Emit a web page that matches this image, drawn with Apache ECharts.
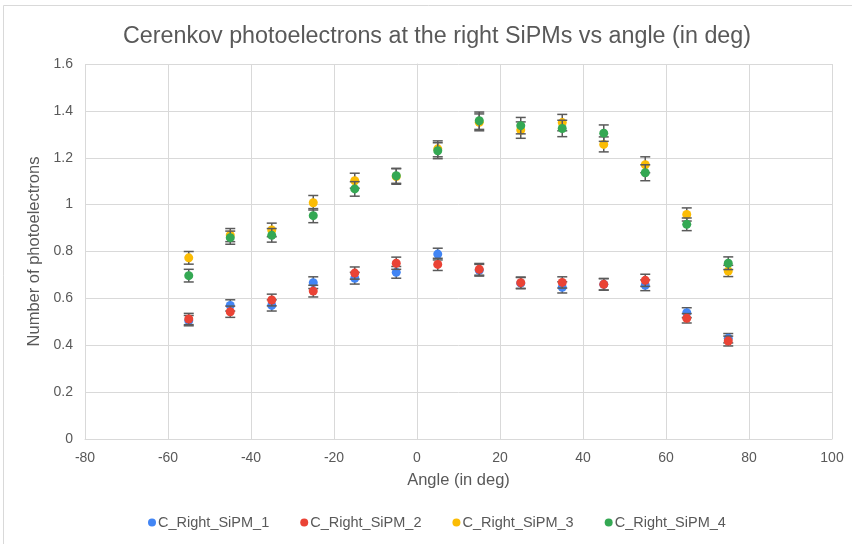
<!DOCTYPE html>
<html>
<head>
<meta charset="utf-8">
<script src="https://cdn.jsdelivr.net/npm/echarts@6/dist/echarts.min.js"></script>
<style>
html,body{margin:0;padding:0;background:#fff;}
#c{width:852px;height:544px;}
</style>
</head>
<body>
<div id="c"></div>
<script>
const angles = [-55,-45,-35,-25,-15,-5,5,15,25,35,45,55,65,75];
const sipm1 = [0.505,0.57,0.57,0.667,0.686,0.711,0.789,0.72,0.665,0.647,0.66,0.656,0.539,0.43];
const sipm2 = [0.512,0.543,0.593,0.631,0.708,0.75,0.745,0.724,0.667,0.668,0.66,0.677,0.515,0.418];
const sipm3 = [0.773,0.87,0.892,1.008,1.102,1.12,1.238,1.351,1.318,1.35,1.257,1.17,0.958,0.717];
const sipm4 = [0.697,0.859,0.869,0.953,1.067,1.123,1.23,1.358,1.337,1.325,1.305,1.136,0.916,0.75];
const err1 = [0.022,0.024,0.024,0.025,0.025,0.025,0.025,0.025,0.024,0.024,0.024,0.023,0.021,0.02];
const err2 = [0.024,0.024,0.025,0.025,0.026,0.026,0.026,0.025,0.024,0.024,0.025,0.026,0.02,0.021];
const err3 = [0.027,0.028,0.029,0.031,0.032,0.033,0.034,0.036,0.035,0.035,0.032,0.034,0.028,0.024];
const err4 = [0.027,0.028,0.029,0.03,0.031,0.032,0.034,0.037,0.035,0.035,0.035,0.034,0.027,0.027];
const names = ['C_Right_SiPM_1','C_Right_SiPM_2','C_Right_SiPM_3','C_Right_SiPM_4'];
const colors = ['#4285F4','#EA4335','#FBBC04','#34A853'];
const yTicks = [0,0.2,0.4,0.6,0.8,1,1.2,1.4,1.6];
const xTicks = [-80,-60,-40,-20,0,20,40,60,80,100];

const values = [sipm1,sipm2,sipm3,sipm4];
const errs = [err1,err2,err3,err4];
const font = 'Liberation Sans, Arial, sans-serif';
const txt = '#595959';

const series = [];
values.forEach((vals, s) => {
  series.push({
    type: 'custom',
    name: names[s],
    z: 2 + s * 2,
    silent: true,
    data: angles.map((a, i) => [a, vals[i] - errs[s][i], vals[i] + errs[s][i]]),
    renderItem: function (params, api) {
      const x = api.value(0);
      const lo = api.coord([x, api.value(1)]);
      const hi = api.coord([x, api.value(2)]);
      const hw = 5;
      const st = { stroke: '#5a5a5a', lineWidth: 1.5, fill: null };
      return {
        type: 'group',
        children: [
          { type: 'line', shape: { x1: lo[0], y1: lo[1], x2: hi[0], y2: hi[1] }, style: st },
          { type: 'line', shape: { x1: lo[0] - hw, y1: lo[1], x2: lo[0] + hw, y2: lo[1] }, style: st },
          { type: 'line', shape: { x1: hi[0] - hw, y1: hi[1], x2: hi[0] + hw, y2: hi[1] }, style: st }
        ]
      };
    },
    encode: { x: 0, y: [1, 2] },
    itemStyle: { color: colors[s] }
  });
  series.push({
    type: 'scatter',
    name: names[s],
    z: 3 + s * 2,
    symbol: 'circle',
    symbolSize: 9,
    itemStyle: { color: colors[s], opacity: 1 },
    data: angles.map((a, i) => [a, vals[i]])
  });
});

const chart = echarts.init(document.getElementById('c'), null, { renderer: 'canvas' });
chart.setOption({
  animation: false,
  backgroundColor: '#fff',
  color: colors,
  graphic: [{
    type: 'rect', left: 3, top: 5, z: -10,
    shape: { x: 0, y: 0, width: 870, height: 560 },
    style: { fill: '#fff', stroke: '#d9d9d9', lineWidth: 1 }
  }],
  title: {
    text: 'Cerenkov photoelectrons at the right SiPMs vs angle (in deg)',
    left: 432, top: 20, textAlign: 'center',
    textStyle: { fontFamily: font, fontSize: 23.3, fontWeight: 'normal', color: txt }
  },
  grid: { left: 85, right: 20, top: 64, bottom: 105, containLabel: false },
  legend: {
    bottom: 9, left: 143,
    data: names,
    icon: 'circle', itemWidth: 8, itemHeight: 8, itemGap: 31,
    textStyle: { fontFamily: font, fontSize: 14.5, color: txt, padding: [0, 0, 0, -3] }
  },
  xAxis: {
    type: 'value', min: -80, max: 100, interval: 20,
    name: 'Angle (in deg)', nameLocation: 'middle', nameGap: 33,
    nameTextStyle: { fontFamily: font, fontSize: 16.5, color: txt },
    axisLine: { show: true, onZero: false, lineStyle: { color: '#d9d9d9', width: 1 } },
    axisTick: { show: false },
    axisLabel: { fontFamily: font, fontSize: 14, color: txt, margin: 12,
      formatter: v => xTicks.includes(v) ? String(v) : '' },
    splitLine: { show: true, lineStyle: { color: '#d9d9d9', width: 1 } }
  },
  yAxis: {
    type: 'value', min: 0, max: 1.6, interval: 0.2,
    name: 'Number of photoelectrons', nameLocation: 'middle', nameGap: 39,
    nameTextStyle: { fontFamily: font, fontSize: 16.5, color: txt },
    axisLine: { show: true, lineStyle: { color: '#d9d9d9', width: 1 } },
    axisTick: { show: false },
    axisLabel: { fontFamily: font, fontSize: 14, color: txt, margin: 12,
      formatter: v => { const t = yTicks.find(k => Math.abs(k - v) < 1e-9); return t === undefined ? '' : String(t); } },
    splitLine: { show: true, lineStyle: { color: '#d9d9d9', width: 1 } }
  },
  series: series
});
</script>
</body>
</html>
